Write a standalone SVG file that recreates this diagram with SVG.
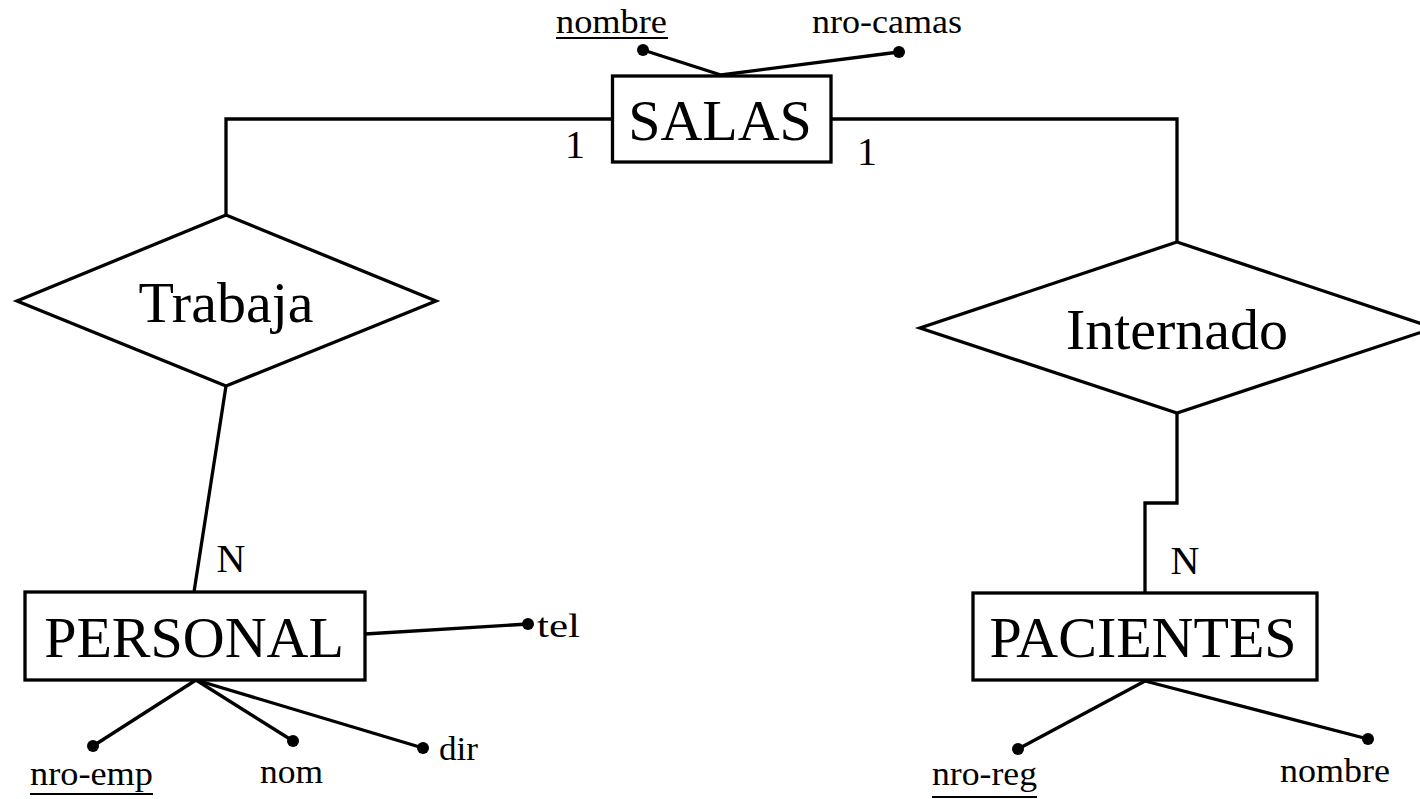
<svg xmlns="http://www.w3.org/2000/svg" width="1420" height="799" viewBox="0 0 1420 799" font-family="'Liberation Serif', 'Times New Roman', serif">
<style>
.shape{fill:#fff;stroke:#000;stroke-width:3.3}
.line{fill:none;stroke:#000;stroke-width:3.3}
.dot{fill:#000}
text{font-family:'Liberation Serif','Times New Roman',serif;fill:#000}
.big{font-size:58px;text-anchor:middle}
.card{font-size:40px;text-anchor:middle}
.attr{font-size:33px}
.ul{stroke:#000;stroke-width:2}
</style>
<rect width="1420" height="799" fill="#fff"/>
<g id="connectors">
<polyline class="line" points="612,119 226,119 226,215"/>
<polyline class="line" points="831,119 1177,119 1177,242"/>
<line class="line" x1="226" y1="386" x2="194" y2="592"/>
<polyline class="line" points="1177,413 1177,503 1145,503 1145,593"/>
<text class="card" x="575" y="158">1</text>
<text class="card" x="867" y="165">1</text>
<text class="card" x="231" y="572">N</text>
<text class="card" x="1185" y="574">N</text>
</g>
<g id="salas">
<line class="line" x1="721" y1="75" x2="643" y2="50"/>
<line class="line" x1="721" y1="75" x2="899" y2="52"/>
<circle class="dot" cx="643" cy="50" r="6"/>
<circle class="dot" cx="899" cy="52" r="6"/>
<text class="attr" x="556" y="33" textLength="111" lengthAdjust="spacingAndGlyphs">nombre</text>
<line class="ul" x1="556" y1="38" x2="668" y2="38"/>
<text class="attr" x="812" y="33" textLength="150" lengthAdjust="spacingAndGlyphs">nro-camas</text>
<rect class="shape" x="612.5" y="76" width="218.5" height="86"/>
<text class="big" x="720" y="140">SALAS</text>
</g>
<g id="trabaja">
<polygon class="shape" points="226,215 436,301 226,386 17,301"/>
<text class="big" x="226" y="322">Trabaja</text>
</g>
<g id="internado">
<polygon class="shape" points="1177,242 1434,328 1177,413 920,328"/>
<text class="big" x="1177" y="349">Internado</text>
</g>
<g id="personal">
<line class="line" x1="365" y1="634" x2="528" y2="624"/>
<line class="line" x1="196" y1="680" x2="93" y2="746"/>
<line class="line" x1="196" y1="680" x2="293" y2="741"/>
<line class="line" x1="196" y1="680" x2="423" y2="748"/>
<circle class="dot" cx="528" cy="624" r="6"/>
<circle class="dot" cx="93" cy="746" r="6"/>
<circle class="dot" cx="293" cy="741" r="6"/>
<circle class="dot" cx="423" cy="748" r="6"/>
<rect class="shape" x="25" y="592" width="340" height="88"/>
<text class="big" x="194" y="657">PERSONAL</text>
<text class="attr" x="537" y="637" textLength="43" lengthAdjust="spacingAndGlyphs">tel</text>
<text class="attr" x="30" y="785" textLength="123" lengthAdjust="spacingAndGlyphs">nro-emp</text>
<line class="ul" x1="30" y1="794" x2="153" y2="794"/>
<text class="attr" x="260" y="783" textLength="63" lengthAdjust="spacingAndGlyphs">nom</text>
<text class="attr" x="439" y="760" textLength="39" lengthAdjust="spacingAndGlyphs">dir</text>
</g>
<g id="pacientes">
<line class="line" x1="1145" y1="681" x2="1018" y2="749"/>
<line class="line" x1="1145" y1="681" x2="1368" y2="739"/>
<circle class="dot" cx="1018" cy="749" r="6"/>
<circle class="dot" cx="1368" cy="739" r="6"/>
<rect class="shape" x="973" y="593" width="344" height="87"/>
<text class="big" x="1143" y="657">PACIENTES</text>
<text class="attr" x="932" y="785" textLength="105" lengthAdjust="spacingAndGlyphs">nro-reg</text>
<line class="ul" x1="932" y1="797" x2="1037" y2="797"/>
<text class="attr" x="1280" y="782" textLength="110" lengthAdjust="spacingAndGlyphs">nombre</text>
</g>
</svg>
